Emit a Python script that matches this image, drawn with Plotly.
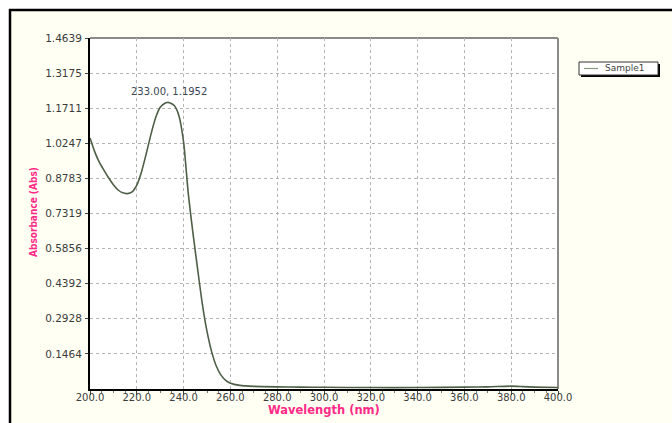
import plotly.graph_objects as go

wavelength = [200, 202, 204, 206, 208, 210, 212, 214, 216, 218, 220, 222, 224, 226, 228,
              230, 232, 233, 234, 236, 238, 240, 242, 244, 246, 248, 250, 252, 254, 256,
              258, 260, 264, 270, 280, 290, 300, 320, 340, 360, 370, 380, 385, 390, 400]
absorbance = [1.047, 0.990, 0.945, 0.912, 0.880, 0.852, 0.830, 0.818, 0.815, 0.822, 0.850,
              0.905, 0.980, 1.060, 1.130, 1.175, 1.192, 1.1952, 1.194, 1.182, 1.140, 1.030,
              0.815, 0.650, 0.500, 0.355, 0.240, 0.155, 0.095, 0.058, 0.036, 0.024, 0.015,
              0.011, 0.009, 0.008, 0.007, 0.006, 0.006, 0.008, 0.009, 0.012, 0.010, 0.008, 0.006]
y_ticks = [0.1464, 0.2928, 0.4392, 0.5856, 0.7319, 0.8783, 1.0247, 1.1711, 1.3175, 1.4639]
y_tick_text = ["0.1464", "0.2928", "0.4392", "0.5856", "0.7319", "0.8783", "1.0247",
               "1.1711", "1.3175", "1.4639"]
x_ticks = [200, 220, 240, 260, 280, 300, 320, 340, 360, 380, 400]
peak_label = "233.00, 1.1952"
series_name = "Sample1"

W, H = 672, 423
L, R, T, B = 90, 114, 38, 34
PW, PH = W - L - R, H - T - B


def px(x):
    return (x - L) / PW


def py(y):
    return (H - B - y) / PH


CREAM = "#fffff3"
PINK = "#ff2a88"
LINE = "#4f5f47"
TXT = "#3c3c3c"

fig = go.Figure()
fig.add_trace(go.Scatter(x=wavelength, y=absorbance, mode="lines", name=series_name,
                         line=dict(color=LINE, width=1.6, shape="spline", smoothing=0.6),
                         showlegend=False))

shapes = [
    dict(type="rect", xref="paper", yref="paper", x0=px(-5), x1=px(W + 5), y0=py(9), y1=py(-5),
         fillcolor="white", line=dict(width=0), layer="below"),
    dict(type="rect", xref="paper", yref="paper", x0=px(-5), x1=px(9), y0=py(H + 5), y1=py(-5),
         fillcolor="white", line=dict(width=0), layer="below"),
    dict(type="line", xref="paper", yref="paper", x0=px(9), x1=px(W + 5), y0=py(10), y1=py(10),
         line=dict(color="black", width=2.5)),
    dict(type="line", xref="paper", yref="paper", x0=px(10), x1=px(10), y0=py(9), y1=py(H + 5),
         line=dict(color="black", width=2.5)),
    dict(type="line", xref="paper", yref="paper", x0=0, x1=1, y0=1, y1=1,
         line=dict(color="#8a8a8a", width=2), layer="below"),
    dict(type="line", xref="paper", yref="paper", x0=1, x1=1, y0=0, y1=1,
         line=dict(color="#8a8a8a", width=2), layer="below"),
    dict(type="rect", xref="paper", yref="paper", x0=px(581), x1=px(660), y0=py(77), y1=py(64),
         fillcolor="black", line=dict(width=0)),
    dict(type="rect", xref="paper", yref="paper", x0=px(579), x1=px(658), y0=py(75), y1=py(62),
         fillcolor="white", line=dict(color="#333", width=1)),
    dict(type="line", xref="paper", yref="paper", x0=px(584), x1=px(598), y0=py(68.5), y1=py(68.5),
         line=dict(color="#8a9a80", width=1.2)),
]

annotations = [
    dict(x=233.8, y=1.240, xref="x", yref="y", text=peak_label, showarrow=False,
         xanchor="center", yanchor="middle",
         font=dict(family="DejaVu Sans", size=10, color="#3a4656")),
    dict(x=px(33), y=py(212), xref="paper", yref="paper", text="<b>Absorbance (Abs)</b>",
         textangle=-90, showarrow=False, xanchor="center", yanchor="middle",
         font=dict(family="DejaVu Sans Condensed, DejaVu Sans", size=10, color=PINK)),
    dict(x=px(324), y=py(410), xref="paper", yref="paper", text="<b>Wavelength (nm)</b>",
         showarrow=False, xanchor="center", yanchor="middle",
         font=dict(family="DejaVu Sans", size=11.5, color=PINK)),
    dict(x=px(603), y=py(68.5), xref="paper", yref="paper", text=series_name, showarrow=False,
         xanchor="left", yanchor="middle",
         font=dict(family="DejaVu Sans", size=9, color="#444")),
]

grid = dict(showgrid=True, gridcolor="#b4b4b4", griddash="dot", gridwidth=1)

fig.update_layout(
    width=W, height=H,
    margin=dict(l=L, r=R, t=T, b=B, pad=0),
    paper_bgcolor=CREAM, plot_bgcolor="white",
    shapes=shapes, annotations=annotations, showlegend=False,
    xaxis=dict(range=[200, 400], tickvals=x_ticks, tickformat=".1f", **grid,
               showline=True, linecolor="black", linewidth=2, ticks="outside", ticklen=4,
               tickcolor="#444", zeroline=False, ticklabelstandoff=-6,
               minor=dict(dtick=5, ticks="outside", ticklen=2, tickcolor="#777", showgrid=False),
               tickfont=dict(family="DejaVu Sans", size=10, color=TXT)),
    yaxis=dict(range=[0, 1.4639], tickvals=y_ticks, ticktext=y_tick_text, **grid,
               showline=True, linecolor="black", linewidth=2, ticks="outside", ticklen=3,
               tickcolor="#444", zeroline=False, ticklabelstandoff=1,
               tickfont=dict(family="DejaVu Sans", size=10.5, color=TXT)),
)

fig.write_html("out.html")
